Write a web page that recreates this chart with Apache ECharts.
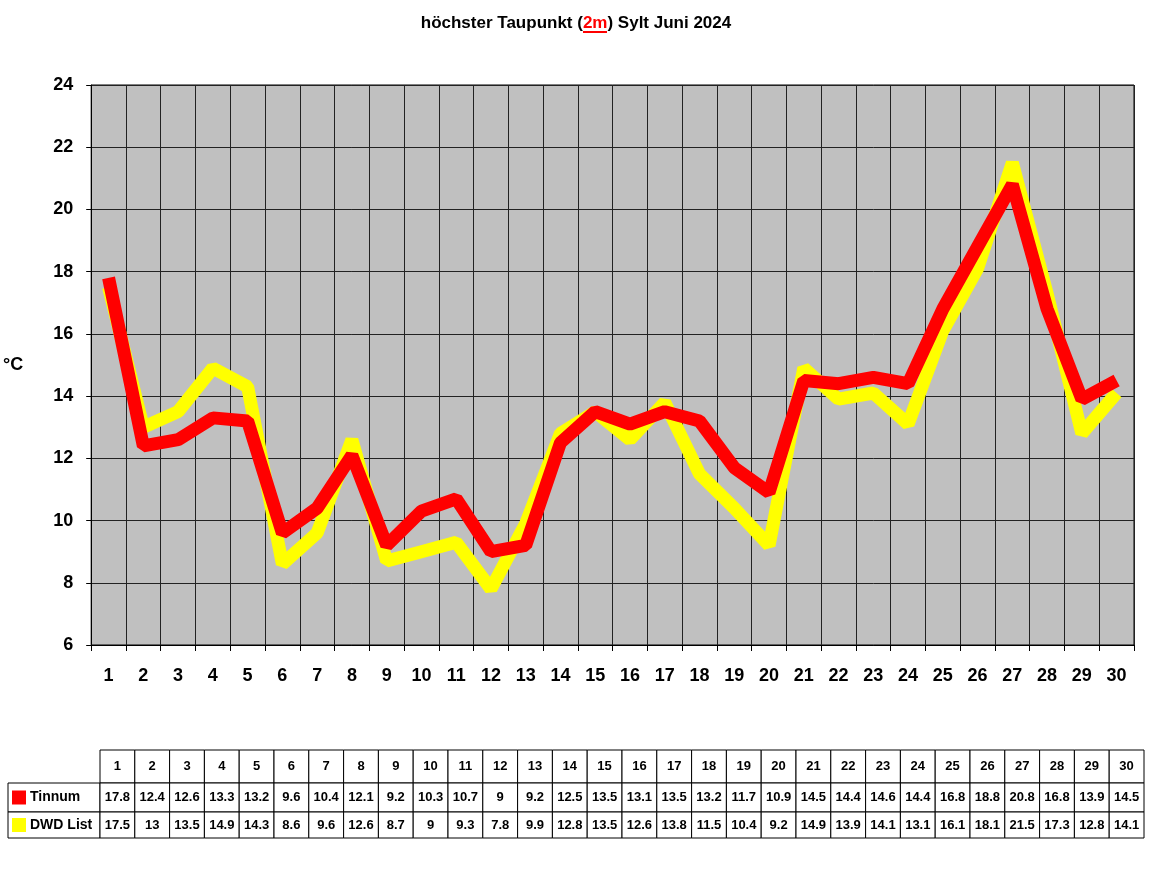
<!DOCTYPE html>
<html>
<head>
<meta charset="utf-8">
<script src="https://cdn.jsdelivr.net/npm/echarts@6/dist/echarts.min.js"></script>
<style>
  html, body { margin: 0; padding: 0; background: #fff; }
  #chart { width: 1152px; height: 882px; }
</style>
</head>
<body>
<div id="chart"></div>
<script>
// Tage im Juni
const days = ['1','2','3','4','5','6','7','8','9','10','11','12','13','14','15','16','17','18','19','20','21','22','23','24','25','26','27','28','29','30'];
const tinnum = [17.8, 12.4, 12.6, 13.3, 13.2, 9.6, 10.4, 12.1, 9.2, 10.3, 10.7, 9, 9.2, 12.5, 13.5, 13.1, 13.5, 13.2, 11.7, 10.9, 14.5, 14.4, 14.6, 14.4, 16.8, 18.8, 20.8, 16.8, 13.9, 14.5];
const dwdList = [17.5, 13, 13.5, 14.9, 14.3, 8.6, 9.6, 12.6, 8.7, 9, 9.3, 7.8, 9.9, 12.8, 13.5, 12.6, 13.8, 11.5, 10.4, 9.2, 14.9, 13.9, 14.1, 13.1, 16.1, 18.1, 21.5, 17.3, 12.8, 14.1];
const seriesNames = ['Tinnum', 'DWD List'];
const seriesColors = ['#ff0000', '#ffff00'];

const chart = echarts.init(document.getElementById('chart'));

// Datentabelle unter dem Diagramm
function buildTable() {
    const els = [];
    const x0 = 8, labelW = 92, top = 750, rowH = [33, 29, 26];
    const colW = (1144 - x0 - labelW) / days.length;
    const rows = [days, tinnum, dwdList];
    let y = top;
    rows.forEach((row, r) => {
        const h = rowH[r];
        if (r > 0) {
            els.push({ type: 'rect', shape: { x: x0, y: y, width: labelW, height: h }, style: { fill: '#fff', stroke: '#000', lineWidth: 1 } });
            els.push({ type: 'rect', shape: { x: x0 + 4, y: y + h / 2 - 7, width: 14, height: 14 }, style: { fill: seriesColors[r - 1] } });
            els.push({ type: 'text', x: x0 + 22, y: y + h / 2, style: { text: seriesNames[r - 1], font: 'bold 14px Arial', fill: '#000', verticalAlign: 'middle' } });
        }
        row.forEach((v, i) => {
            const cx = x0 + labelW + i * colW;
            els.push({ type: 'rect', shape: { x: cx, y: y, width: colW, height: h }, style: { fill: '#fff', stroke: '#000', lineWidth: 1 } });
            els.push({ type: 'text', x: cx + colW / 2, y: y + h / 2, style: { text: String(v), font: 'bold 13px Arial', fill: '#000', align: 'center', verticalAlign: 'middle' } });
        });
        y += h;
    });
    // Unterstreichung von "2m" im Titel
    els.push({ type: 'line', shape: { x1: 583, y1: 32, x2: 607, y2: 32 }, style: { stroke: '#ff0000', lineWidth: 2 } });
    return els;
}

const option = {
    backgroundColor: '#fff',
    animation: false,
    title: {
        text: 'höchster Taupunkt ({r|2m}) Sylt Juni 2024',
        left: 'center',
        top: 10,
        textStyle: {
            fontFamily: 'Arial', fontSize: 17, fontWeight: 'bold', color: '#000',
            rich: { r: { color: '#ff0000', fontSize: 17, fontWeight: 'bold' } }
        }
    },
    grid: { left: 90, right: 18, top: 85, bottom: 237, backgroundColor: '#c0c0c0', show: true, borderColor: '#000', borderWidth: 1 },
    xAxis: {
        type: 'category',
        data: days,
        boundaryGap: true,
        axisLine: { lineStyle: { color: '#000' } },
        axisTick: { show: true, length: 6, lineStyle: { color: '#000' } },
        axisLabel: { color: '#000', fontSize: 18, fontWeight: 'bold', fontFamily: 'Arial', margin: 22 },
        splitLine: { show: true, lineStyle: { color: '#222', width: 1 } }
    },
    yAxis: {
        type: 'value',
        min: 6, max: 24, interval: 2,
        name: '°C',
        nameLocation: 'middle',
        nameRotate: 0,
        nameGap: 68,
        nameTextStyle: { color: '#000', fontSize: 18, fontWeight: 'bold', fontFamily: 'Arial' },
        axisLine: { show: true, lineStyle: { color: '#000' } },
        axisTick: { show: true, lineStyle: { color: '#000' } },
        axisLabel: { color: '#000', fontSize: 18, fontWeight: 'bold', fontFamily: 'Arial', margin: 18 },
        splitLine: { show: true, lineStyle: { color: '#222', width: 1 } }
    },
    series: [
        {
            name: 'DWD List', type: 'line', data: dwdList, symbol: 'none', z: 2,
            lineStyle: { color: '#ffff00', width: 13 }
        },
        {
            name: 'Tinnum', type: 'line', data: tinnum, symbol: 'none', z: 3,
            lineStyle: { color: '#ff0000', width: 13 }
        }
    ],
    graphic: buildTable()
};

chart.setOption(option);
</script>
</body>
</html>
